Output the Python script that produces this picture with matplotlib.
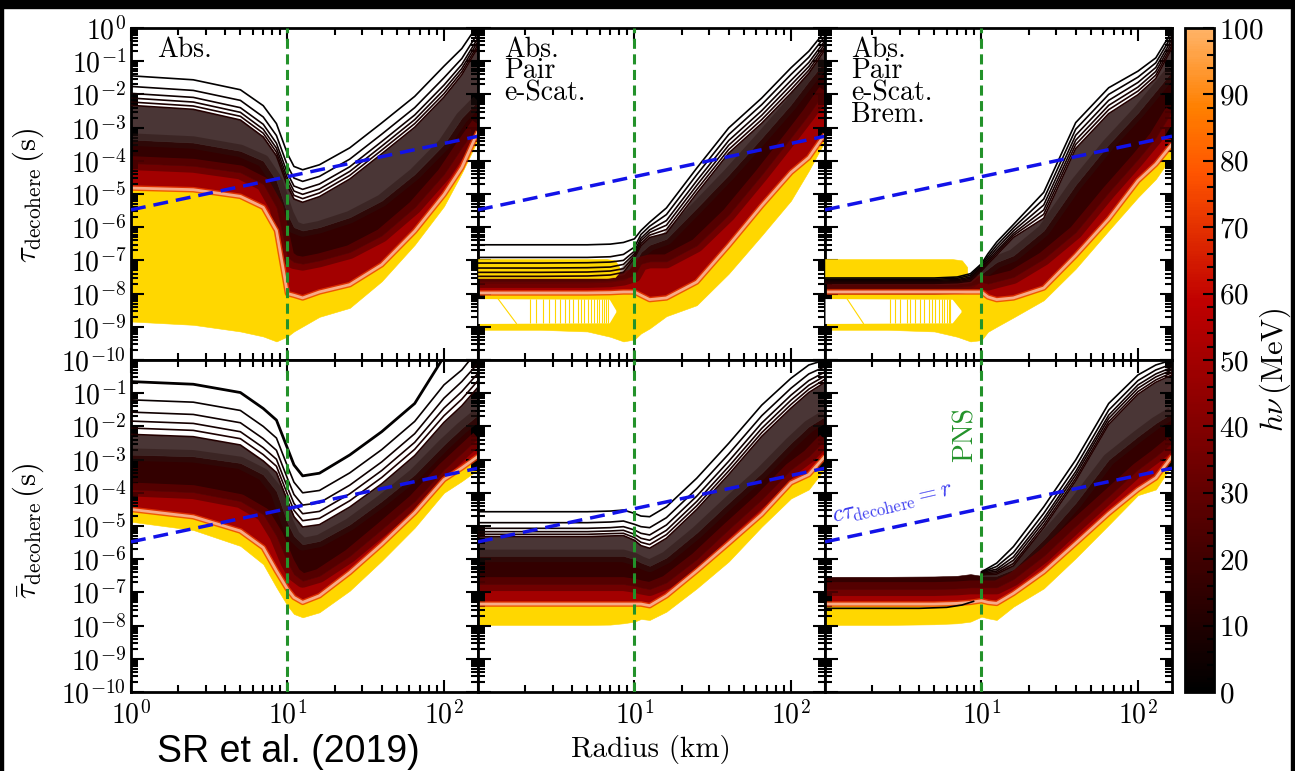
import numpy as np
import matplotlib.pyplot as plt
from matplotlib import colors, ticker
from matplotlib.cm import ScalarMappable
from matplotlib.patches import Rectangle

plt.rcParams.update({
    "font.family": "serif",
    "font.serif": ["cmr10"],
    "mathtext.fontset": "cm",
    "axes.formatter.use_mathtext": True,
})

# radius grid (km) shared by every curve, values are log10(tau / s)
radius_km = [1, 2.5, 5, 7, 8.5, 10, 11, 12.5, 16, 25, 40, 65, 100, 130, 165]
NAN = np.nan

# ---- top left: Abs.
tl_lines = [
    [-1.44, -1.56, -1.86, -2.34, -2.88, -3.79, -4.17, -4.27, -4.12, -3.61, -2.86, -2.06, -1.15, -0.62, 0.10],
    [-1.76, -1.88, -2.18, -2.68, -3.24, -4.15, -4.52, -4.62, -4.47, -3.95, -3.20, -2.40, -1.50, -0.92, -0.15],
    [-1.97, -2.09, -2.40, -2.90, -3.47, -4.38, -4.76, -4.86, -4.70, -4.18, -3.42, -2.62, -1.72, -1.10, -0.30],
    [-2.11, -2.23, -2.54, -3.05, -3.62, -4.53, -4.91, -5.01, -4.85, -4.32, -3.56, -2.76, -1.86, -1.22, -0.40],
    [-2.23, -2.35, -2.66, -3.17, -3.74, -4.65, -5.04, -5.14, -4.97, -4.44, -3.68, -2.88, -1.98, -1.32, -0.50],
    [-2.33, -2.45, -2.77, -3.28, -3.85, -4.76, -5.15, -5.25, -5.08, -4.55, -3.79, -2.99, -2.08, -1.41, -0.58],
]
tl_dark = [-3.36, -3.45, -3.70, -4.00, -4.60, -5.60, -6.00, -6.10, -6.00, -5.70, -5.20, -4.40, -3.50, -2.70, -2.20]
tl_red = [-4.07, -4.15, -4.35, -4.70, -5.40, -6.90, -7.05, -7.10, -7.00, -6.75, -6.25, -5.40, -4.40, -3.60, -2.90]
tl_gold_top = [-4.82, -4.87, -5.07, -5.40, -6.10, -8.00, -8.05, -8.13, -7.95, -7.73, -7.13, -6.12, -5.02, -4.20, -3.12]
tl_gold_bot = [-8.84, -8.94, -9.14, -9.29, -9.44, -9.29, -9.14, -8.99, -8.70, -8.43, -7.63, -6.53, -5.37, -4.37, -3.36]

# ---- top middle: Abs. + Pair + e-Scat.
tm_lines = [
    [-6.53, -6.53, -6.53, -6.51, -6.46, -6.35, -6.10, -5.85, -5.42, -4.22, -3.01, -2.11, -1.20, -0.70, -0.10],
    [-6.91, -6.91, -6.91, -6.89, -6.82, -6.60, -6.22, -5.97, -5.62, -4.42, -3.21, -2.31, -1.40, -0.88, -0.25],
    [-7.08, -7.08, -7.07, -7.05, -7.00, -6.72, -6.33, -6.08, -5.80, -4.60, -3.39, -2.49, -1.58, -1.04, -0.38],
    [-7.23, -7.23, -7.22, -7.20, -7.12, -6.80, -6.41, -6.16, -5.94, -4.74, -3.53, -2.63, -1.72, -1.16, -0.48],
    [-7.36, -7.36, -7.35, -7.32, -7.25, -6.87, -6.49, -6.24, -6.07, -4.87, -3.66, -2.76, -1.85, -1.27, -0.57],
    [-7.48, -7.48, -7.47, -7.44, -7.36, -6.93, -6.56, -6.31, -6.18, -4.98, -3.77, -2.87, -1.96, -1.37, -0.65],
]
tm_dark = [-7.52, -7.52, -7.51, -7.48, -7.42, -7.10, -6.75, -6.53, -6.35, -5.42, -4.42, -3.31, -2.30, -1.60, -1.00]
tm_red = [-7.62, -7.62, -7.62, -7.60, -7.55, -7.45, -7.10, -7.03, -7.03, -6.55, -5.62, -4.42, -3.30, -2.60, -1.90]
tm_gold_top = [-7.98, -7.98, -7.98, -7.97, -7.95, -7.95, -8.05, -8.18, -8.13, -7.65, -6.55, -5.35, -4.35, -3.90, -3.20]
tm_gold_bot = [-9.09, -9.09, -9.14, -9.30, -9.44, -9.38, -9.20, -9.05, -8.68, -8.35, -7.40, -6.25, -5.20, -4.30, -3.40]
tm_block_r = [1, 6.6, 7.5, 8.0]
tm_block_hi = [-6.96, -6.96, -7.00, -7.20]
tm_block_lo = [-7.53, -7.53, -7.50, -7.35]
tm_gap_r = [1, 6.9, 7.6]
tm_gap_hi = [-8.15, -8.17, -8.50]
tm_gap_lo = [-8.90, -8.88, -8.55]
tm_comb_r = [2.14, 2.36, 2.61, 2.83, 3.10, 3.33, 3.59, 3.81, 4.06, 4.33, 4.55,
             4.78, 5.02, 5.28, 5.52, 5.74, 5.97, 6.18, 6.40, 6.62, 6.82]
tm_diag_r = [1.34, 1.76]
tm_diag = [-8.15, -8.90]

# ---- top right: + Brem.
tr_lines = [
    [-7.53, -7.53, -7.53, -7.50, -7.40, -7.10, -6.80, -6.45, -5.92, -4.95, -2.85, -1.80, -1.30, -0.90, -0.10],
    [-7.57, -7.57, -7.57, -7.54, -7.45, -7.15, -6.88, -6.55, -6.02, -5.15, -3.05, -2.00, -1.48, -1.05, -0.22],
    [-7.60, -7.60, -7.60, -7.58, -7.50, -7.20, -6.95, -6.64, -6.11, -5.33, -3.23, -2.18, -1.64, -1.19, -0.33],
    [-7.63, -7.63, -7.63, -7.61, -7.54, -7.24, -7.01, -6.72, -6.19, -5.48, -3.38, -2.33, -1.78, -1.31, -0.43],
    [-7.66, -7.66, -7.66, -7.64, -7.58, -7.28, -7.06, -6.78, -6.25, -5.61, -3.51, -2.46, -1.90, -1.42, -0.52],
    [-7.69, -7.69, -7.69, -7.67, -7.62, -7.32, -7.11, -6.84, -6.31, -5.73, -3.63, -2.58, -2.01, -1.52, -0.60],
]
tr_dark = [-7.72, -7.72, -7.72, -7.70, -7.66, -7.40, -7.25, -7.05, -6.85, -6.10, -4.72, -3.50, -2.55, -1.90, -1.30]
tr_red = [-7.82, -7.82, -7.82, -7.80, -7.76, -7.65, -7.70, -7.63, -7.50, -6.95, -6.15, -4.95, -3.95, -3.30, -2.50]
tr_gold_top = [-7.95, -7.95, -7.95, -7.95, -7.95, -7.95, -8.10, -8.18, -8.13, -7.83, -6.85, -5.75, -4.60, -4.10, -3.50]
tr_gold_bot = [-9.09, -9.09, -9.14, -9.30, -9.44, -9.40, -9.15, -9.00, -8.72, -8.20, -7.25, -6.10, -5.10, -4.55, -3.85]
tr_block_r = [1, 6.5, 7.5, 8.1]
tr_block_hi = [-6.96, -6.96, -7.00, -7.20]
tr_block_lo = [-7.60, -7.60, -7.60, -7.50]
tr_gap_r = [1, 6.5, 7.4]
tr_gap_hi = [-8.15, -8.17, -8.50]
tr_gap_lo = [-8.90, -8.88, -8.55]
tr_comb_r = [2.61, 2.81, 3.03, 3.34, 3.51, 3.78, 4.06, 4.27, 4.60, 4.83,
             5.07, 5.33, 5.60, 5.74, 6.03, 6.17, 6.33]
tr_diag_r = [1.38, 1.76]
tr_diag = [-8.15, -8.90]

# ---- bottom left: anti-neutrinos, Abs.
bl_lines = [
    [-0.65, -0.73, -0.98, -1.46, -1.81, -2.66, -3.16, -3.49, -3.41, -2.86, -2.16, -1.31, 0.10, 0.50, 1.00],
    [-1.20, -1.27, -1.52, -2.00, -2.35, -3.20, -3.68, -4.00, -3.93, -3.40, -2.70, -1.85, -0.75, -0.30, 0.30],
    [-1.57, -1.64, -1.89, -2.37, -2.72, -3.57, -4.05, -4.37, -4.30, -3.77, -3.07, -2.22, -1.15, -0.65, -0.10],
    [-1.84, -1.91, -2.16, -2.64, -2.99, -3.84, -4.32, -4.63, -4.56, -4.03, -3.33, -2.48, -1.45, -0.95, -0.40],
    [-2.05, -2.12, -2.37, -2.85, -3.20, -4.05, -4.53, -4.84, -4.77, -4.24, -3.54, -2.69, -1.68, -1.18, -0.62],
    [-2.24, -2.31, -2.56, -3.04, -3.39, -4.24, -4.72, -5.03, -4.96, -4.43, -3.73, -2.88, -1.88, -1.38, -0.82],
]
bl_dark = [-2.85, -2.90, -3.10, -3.45, -3.95, -4.90, -5.30, -5.55, -5.45, -4.95, -4.25, -3.45, -2.55, -2.05, -1.65]
bl_red = [-3.90, -3.98, -4.25, -4.65, -5.30, -6.10, -6.45, -6.65, -6.50, -5.90, -5.10, -4.25, -3.30, -2.80, -2.35]
bl_gold_top = [-4.50, -4.72, -5.15, -5.65, -6.35, -6.90, -7.15, -7.30, -7.10, -6.40, -5.55, -4.60, -3.60, -3.25, -2.90]
bl_gold_bot = [-4.87, -5.12, -5.60, -6.15, -6.85, -7.40, -7.65, -7.75, -7.60, -6.95, -6.05, -5.05, -4.00, -3.65, -3.30]

# ---- bottom middle
bm_lines = [
    [-4.57, -4.57, -4.57, -4.55, -4.52, -4.62, -4.70, -4.72, -4.42, -3.56, -2.51, -1.36, -0.55, -0.15, 0.00],
    [-4.90, -4.90, -4.90, -4.88, -4.85, -4.95, -5.02, -5.05, -4.75, -3.88, -2.83, -1.68, -0.85, -0.42, -0.20],
    [-5.07, -5.07, -5.07, -5.05, -5.02, -5.12, -5.22, -5.27, -4.97, -4.10, -3.05, -1.90, -1.06, -0.62, -0.36],
    [-5.17, -5.17, -5.17, -5.15, -5.13, -5.25, -5.37, -5.43, -5.13, -4.26, -3.21, -2.06, -1.21, -0.76, -0.48],
    [-5.25, -5.25, -5.25, -5.23, -5.22, -5.35, -5.49, -5.56, -5.26, -4.39, -3.34, -2.19, -1.34, -0.88, -0.58],
    [-5.32, -5.32, -5.32, -5.30, -5.29, -5.43, -5.59, -5.67, -5.37, -4.50, -3.45, -2.30, -1.45, -0.98, -0.67],
]
bm_dark = [-5.90, -5.90, -5.90, -5.90, -5.90, -6.00, -6.10, -6.20, -5.95, -5.20, -4.30, -3.40, -2.50, -2.00, -1.70]
bm_red = [-6.75, -6.75, -6.75, -6.75, -6.75, -6.80, -6.85, -6.90, -6.70, -6.00, -5.10, -4.20, -3.30, -2.90, -2.40]
bm_gold_top = [-7.35, -7.35, -7.35, -7.35, -7.35, -7.35, -7.35, -7.40, -7.10, -6.35, -5.52, -4.65, -3.70, -3.45, -2.90]
bm_gold_bot = [-7.98, -7.98, -7.98, -7.97, -7.93, -7.88, -7.80, -7.83, -7.58, -6.88, -6.07, -5.02, -4.17, -3.90, -3.26]

# ---- bottom right
br_lines = [
    [NAN, NAN, NAN, NAN, NAN, -6.38, -6.27, -6.12, -5.62, -4.42, -3.01, -1.31, -0.45, -0.15, 0.00],
    [NAN, NAN, NAN, NAN, NAN, -6.40, -6.32, -6.22, -5.80, -4.62, -3.21, -1.51, -0.62, -0.30, -0.12],
    [NAN, NAN, NAN, NAN, NAN, -6.42, -6.36, -6.30, -5.93, -4.77, -3.36, -1.66, -0.75, -0.42, -0.22],
    [NAN, NAN, NAN, NAN, NAN, -6.44, -6.40, -6.36, -6.03, -4.87, -3.46, -1.76, -0.85, -0.51, -0.30],
    [NAN, NAN, NAN, NAN, NAN, -6.46, -6.43, -6.41, -6.13, -4.97, -3.56, -1.86, -0.95, -0.60, -0.38],
    [NAN, NAN, NAN, NAN, NAN, -6.48, -6.46, -6.45, -6.20, -5.05, -3.64, -1.94, -1.03, -0.67, -0.45],
]
br_dark = [-6.53, -6.53, -6.52, -6.50, -6.45, -6.50, -6.50, -6.50, -6.30, -5.40, -4.30, -3.00, -2.30, -1.90, -1.60]
br_red = [-6.90, -6.90, -6.90, -6.88, -6.85, -6.85, -6.85, -6.85, -6.60, -5.90, -5.00, -4.10, -3.30, -2.90, -2.50]
br_gold_top = [-7.35, -7.35, -7.35, -7.33, -7.30, -7.25, -7.30, -7.33, -7.03, -6.38, -5.52, -4.62, -3.90, -3.55, -2.90]
br_gold_bot = [-7.98, -7.98, -7.96, -7.93, -7.88, -7.73, -7.78, -7.83, -7.43, -6.88, -5.97, -4.97, -4.07, -3.90, -3.16]
br_low_r = [1, 4, 6, 7.5, 8.9]
br_low = [-7.48, -7.48, -7.45, -7.38, -7.27]

# reference lines
light_r = [1, 165]          # c * tau = r
light_tau = [3.33e-6, 5.5e-4]
pns_r = 10

panel_text = ["Abs.", "Abs.\nPair\ne-Scat.", "Abs.\nPair\ne-Scat.\nBrem."]

# ------------------------------------------------------------------ style
base = plt.get_cmap("gist_heat")
CMAP = colors.LinearSegmentedColormap.from_list("heat", base(np.linspace(0, 0.85, 256)))
NORM = colors.Normalize(0, 100)
GOLD = "#ffd700"
STRIPE = "#4a3636"
DARK = CMAP(NORM(16))
RED = CMAP(NORM(50))
SALMON = "#f7ab88"


def t(v):
    return 10.0 ** np.asarray(v, dtype=float)


def draw_panel(ax, lines, dark, red, gold_top, gold_bot, thick_top=False):
    r = np.asarray(radius_km, dtype=float)
    kw = dict(lw=0.4, zorder=1)
    ax.fill_between(r, t(gold_top), t(gold_bot), color=GOLD, **kw)
    ax.fill_between(r, t(red), t(gold_top), color=RED, **kw)
    ax.fill_between(r, t(dark), t(red), color=DARK, **kw)
    ax.fill_between(r, t(lines[-1]), t(dark), color=STRIPE, **kw)
    # soften band edges (only where a band lies above)
    edge = np.where(np.isnan(np.asarray(lines[-1], dtype=float)), np.nan, dark)
    ax.plot(r, t(edge), color="#2a1210", lw=9, alpha=0.45, zorder=2, solid_capstyle="butt")
    ax.plot(r, t(red), color=CMAP(NORM(30)), lw=10, alpha=0.75, zorder=2, solid_capstyle="butt")
    ax.plot(r, t(gold_top), color=CMAP(NORM(72)), lw=4, alpha=0.8, zorder=2, solid_capstyle="butt")
    ax.plot(r, t(gold_top), color=SALMON, lw=2, zorder=2)
    for i, line in enumerate(lines):
        lw = 2.0 if (thick_top and i == 0) else 1.2
        ax.plot(r, t(line), color=CMAP(NORM(1 + 2 * i)), lw=lw, zorder=4)


def draw_comb(ax, block_r, block_hi, block_lo, gap_r, gap_hi, gap_lo, comb_r, diag_r, diag):
    ax.fill_between(block_r, t(block_hi), t(block_lo), color=GOLD, lw=0.4, zorder=3)
    ax.fill_between(gap_r, t(gap_hi), t(gap_lo), color="white", lw=0, zorder=3)
    ax.vlines(comb_r, t(gap_lo[0]), t(gap_hi[0]), color=GOLD, lw=0.8, zorder=3)
    ax.plot(diag_r, t(diag), color=GOLD, lw=0.8, zorder=3)


fig = plt.figure(figsize=(12.95, 7.71), dpi=100)
gs = fig.add_gridspec(2, 3, left=131 / 1295, right=1172 / 1295, top=1 - 28 / 771,
                      bottom=1 - 692 / 771, wspace=0, hspace=0)
axes = [[fig.add_subplot(gs[i, j]) for j in range(3)] for i in range(2)]

draw_panel(axes[0][0], tl_lines, tl_dark, tl_red, tl_gold_top, tl_gold_bot)
draw_panel(axes[0][1], tm_lines, tm_dark, tm_red, tm_gold_top, tm_gold_bot)
draw_comb(axes[0][1], tm_block_r, tm_block_hi, tm_block_lo, tm_gap_r, tm_gap_hi, tm_gap_lo,
          tm_comb_r, tm_diag_r, tm_diag)
draw_panel(axes[0][2], tr_lines, tr_dark, tr_red, tr_gold_top, tr_gold_bot)
draw_comb(axes[0][2], tr_block_r, tr_block_hi, tr_block_lo, tr_gap_r, tr_gap_hi, tr_gap_lo,
          tr_comb_r, tr_diag_r, tr_diag)
draw_panel(axes[1][0], bl_lines, bl_dark, bl_red, bl_gold_top, bl_gold_bot, thick_top=True)
draw_panel(axes[1][1], bm_lines, bm_dark, bm_red, bm_gold_top, bm_gold_bot)
draw_panel(axes[1][2], br_lines, br_dark, br_red, br_gold_top, br_gold_bot)
axes[1][2].plot(br_low_r, t(br_low), color="k", lw=1.2, zorder=4)

for i in range(2):
    for j in range(3):
        ax = axes[i][j]
        ax.plot(light_r, light_tau, color="#1212e8", lw=2.5, ls=(0, (4.3, 2.3)), zorder=6)
        ax.axvline(pns_r, color="#23922a", lw=2.2, ls=(0, (3.3, 1.8)), zorder=6)
        ax.set_xscale("log")
        ax.set_yscale("log")
        ax.set_xlim(1, 165)
        ax.set_ylim(1e-10, 1)
        ax.yaxis.set_major_locator(ticker.LogLocator(base=10, numticks=20))
        ax.yaxis.set_minor_locator(ticker.LogLocator(base=10, subs=np.arange(2, 10), numticks=20))
        ax.xaxis.set_minor_locator(ticker.LogLocator(base=10, subs=np.arange(2, 10), numticks=20))
        ax.yaxis.set_minor_formatter(ticker.NullFormatter())
        ax.xaxis.set_minor_formatter(ticker.NullFormatter())
        ax.tick_params(which="both", direction="in", top=True, right=True, width=1.5,
                       labelsize=20)
        ax.tick_params(axis="x", which="major", pad=6)
        ax.tick_params(which="major", length=9)
        ax.tick_params(which="minor", length=5)
        for s in ax.spines.values():
            s.set_linewidth(2)
        if i == 0:
            ax.tick_params(labelbottom=False)
        if j > 0:
            ax.tick_params(labelleft=False)

# hide labels that would collide on the shared edges
sci = ticker.LogFormatterSciNotation()
axes[1][0].yaxis.set_major_formatter(ticker.FuncFormatter(lambda v, p: "" if v >= 1 else sci(v, p)))
for j in (1, 2):
    axes[1][j].xaxis.set_major_formatter(ticker.FuncFormatter(lambda v, p: "" if v <= 1 else sci(v, p)))

for j, txt in enumerate(panel_text):
    axes[0][j].text(0.075, 0.975, txt, transform=axes[0][j].transAxes, ha="left", va="top",
                    fontsize=20, linespacing=0.78)

axes[1][2].text(7.9, 5.5e-3, "PNS", color="#23922a", rotation=90, ha="center", va="center",
                fontsize=20)
axes[1][2].text(1.13, 1.23e-5, r"$c\tau_{\rm decohere}=r$", color="#3c3cf0", rotation=13,
                rotation_mode="anchor", ha="left", va="baseline", fontsize=17)

fig.text(28 / 1295, 1 - 195 / 771, r"$\tau_{\rm decohere}\,(\rm s)$", rotation=90,
         ha="center", va="center", fontsize=22)
fig.text(28 / 1295, 1 - 531 / 771, r"$\bar{\tau}_{\rm decohere}\,(\rm s)$", rotation=90,
         ha="center", va="center", fontsize=22)
fig.text(651 / 1295, 1 - 750 / 771, "Radius (km)", ha="center", va="center", fontsize=21)

cax = fig.add_axes([1185 / 1295, 1 - 692 / 771, 29 / 1295, 664 / 771])
cb = fig.colorbar(ScalarMappable(norm=NORM, cmap=CMAP), cax=cax)
cb.set_ticks(np.arange(0, 101, 10))
cb.ax.yaxis.set_minor_locator(ticker.MultipleLocator(2))
cb.ax.tick_params(which="both", direction="in", labelsize=21, width=1.5)
cb.ax.tick_params(which="major", length=8)
cb.ax.tick_params(which="minor", length=5)
cb.outline.set_linewidth(2)
fig.text(1275 / 1295, 1 - 370 / 771, r"$h\nu\,(\rm MeV)$", rotation=90, ha="center",
         va="center", fontsize=22)

fig.text(157 / 1295, 1 - 762 / 771, "SR et al. (2019)", family="Liberation Sans",
         fontsize=27, ha="left", va="baseline")

# black frame of the slide
for rect in [(0, 1 - 8 / 771, 1, 8 / 771), (0, 0, 3 / 1295, 1), (1 - 4 / 1295, 0, 4 / 1295, 1)]:
    fig.patches.append(Rectangle(rect[:2], rect[2], rect[3], transform=fig.transFigure,
                                 color="black", zorder=10))

fig.savefig("out.png", dpi=100)
